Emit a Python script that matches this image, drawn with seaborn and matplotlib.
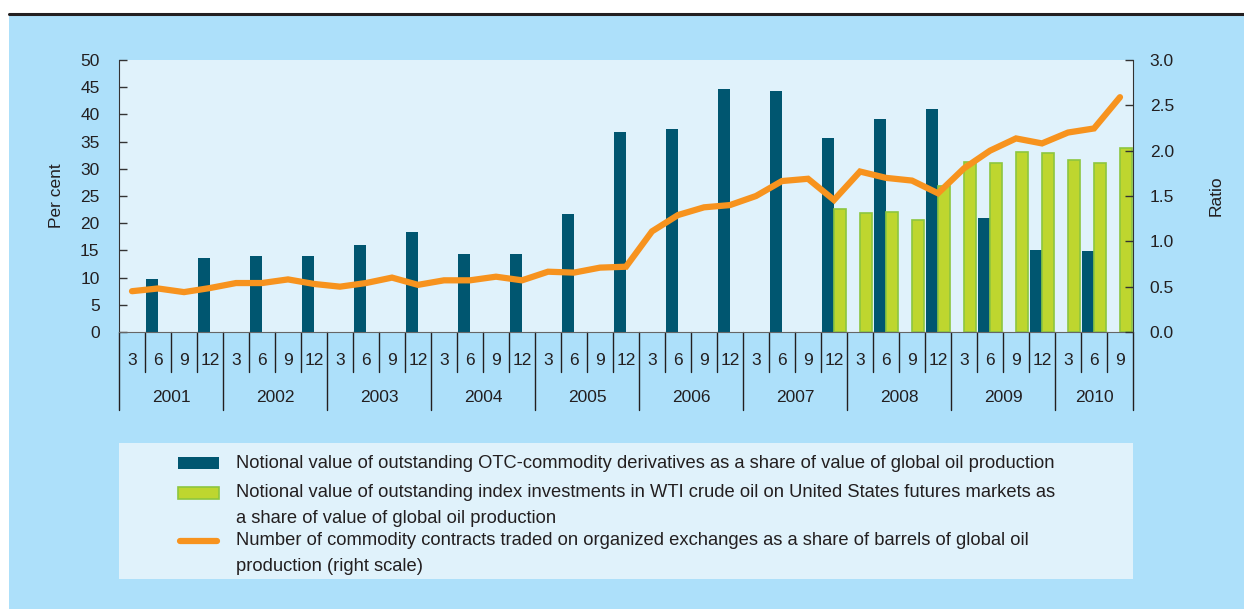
import numpy as np
import pandas as pd
import matplotlib.pyplot as plt
import matplotlib.transforms as mtransforms
from matplotlib.patches import Rectangle
from matplotlib.lines import Line2D
import seaborn as sns

sns.set_style("white")
plt.rcParams["font.family"] = ["Liberation Sans", "DejaVu Sans"]

# data: quarterly, 2001 Q1 .. 2010 Q3
years = [2001, 2002, 2003, 2004, 2005, 2006, 2007, 2008, 2009, 2010]
months = [3, 6, 9, 12]
quarter_ids = [f"{y}-{m}" for y in years for m in months][:39]
month_labels = [str(m) for y in years for m in months][:39]

nan = np.nan
otc_share = [nan, 9.7, nan, 13.6, nan, 14.0, nan, 14.0, nan, 16.0, nan, 18.4,
             nan, 14.3, nan, 14.3, nan, 21.6, nan, 36.7, nan, 37.3, nan, 44.6,
             nan, 44.3, nan, 35.7, nan, 39.2, nan, 41.0, nan, 21.0, nan, 15.0,
             nan, 14.9, nan]
index_share = [nan] * 27 + [22.7, 21.8, 22.1, 20.6, 26.8, 31.3, 31.1, 33.1,
                            32.9, 31.7, 31.0, 33.9]
contracts_ratio = [0.45, 0.48, 0.44, 0.485, 0.54, 0.54, 0.58, 0.53,
                   0.50, 0.54, 0.60, 0.52, 0.57, 0.57, 0.61, 0.57,
                   0.665, 0.655, 0.71, 0.72, 1.11, 1.29, 1.375, 1.40,
                   1.50, 1.665, 1.69, 1.456, 1.77, 1.70, 1.67, 1.53,
                   1.805, 2.00, 2.135, 2.08, 2.20, 2.245, 2.59]

otc_label = "Notional value of outstanding OTC-commodity derivatives as a share of value of global oil production"
index_label = ("Notional value of outstanding index investments in WTI crude oil on United States futures markets as\n"
               "a share of value of global oil production")
ratio_label = ("Number of commodity contracts traded on organized exchanges as a share of barrels of global oil\n"
               "production (right scale)")

DARK = "#005670"
GREEN = "#BED62F"
GREEN_EDGE = "#8DC63F"
ORANGE = "#F7931E"
OUTER = "#ADE0FA"
INNER = "#E0F2FB"
TXT = "#231F20"
FS = 12.5
LEG_FS = 13.2

bars_df = pd.DataFrame({
    "quarter": quarter_ids * 2,
    "series": ["otc"] * 39 + ["index"] * 39,
    "value": otc_share + index_share,
}).dropna()

W, H = 1244, 609
fig = plt.figure(figsize=(W / 100, H / 100), dpi=100, facecolor="white")
fig.add_artist(Rectangle((9 / W, 0), 1 - 9 / W, 1 - 14.5 / H, transform=fig.transFigure,
                         facecolor=OUTER, edgecolor="none", zorder=-10))
fig.add_artist(Line2D([9 / W, 1], [1 - 13.5 / H] * 2, transform=fig.transFigure,
                      color=TXT, lw=2.2))

ax = fig.add_axes([119 / W, 1 - 332 / H, 1014 / W, 272 / H])
ax.set_facecolor(INNER)

sns.barplot(data=bars_df, x="quarter", y="value", hue="series", order=quarter_ids,
            hue_order=["otc", "index"], palette=[DARK, GREEN], width=0.9,
            dodge=True, saturation=1, ax=ax, legend=False, linewidth=0)
for bar in ax.containers[1]:
    bar.set_edgecolor(GREEN_EDGE)
    bar.set_linewidth(1.2)

ax2 = ax.twinx()
sns.lineplot(x=quarter_ids, y=contracts_ratio, sort=False, color=ORANGE, lw=4.5,
             ax=ax2, solid_capstyle="round", solid_joinstyle="miter")

ax.set_xlim(-0.5, 38.5)
ax.set_ylim(0, 50)
ax.set_yticks(range(0, 51, 5))
ax2.set_ylim(0, 3)
ax2.set_yticks(np.arange(0, 3.01, 0.5))
ax2.set_yticklabels([f"{v:.1f}" for v in np.arange(0, 3.01, 0.5)])

ax.set_xticks([])
ax.set_xlabel("")
ax.set_ylabel("Per cent", fontsize=FS, color=TXT)
ax.yaxis.set_label_coords(-0.054, 0.5)
ax2.set_ylabel("Ratio", fontsize=FS, color=TXT, rotation=90)
ax2.yaxis.set_label_coords(1.075, 0.5)

for a in (ax, ax2):
    for s in a.spines.values():
        s.set_visible(False)
ax.spines["left"].set_visible(True)
ax.spines["left"].set_color("#333333")
ax.spines["bottom"].set_visible(True)
ax.spines["bottom"].set_color("#666666")
ax2.spines["right"].set_visible(True)
ax2.spines["right"].set_color("#333333")
ax.tick_params(axis="y", direction="in", length=6, width=1, color="#333333",
               labelsize=FS, labelcolor=TXT, pad=14)
ax2.tick_params(axis="y", direction="in", length=6, width=1, color="#333333",
                labelsize=FS, labelcolor=TXT, pad=12)
ax2.tick_params(axis="x", bottom=False, labelbottom=False)

# table-like category axis
trans = mtransforms.blended_transform_factory(ax.transData, ax.transAxes)
for k in range(40):
    x = k - 0.5
    long_div = (k % 4 == 0) or k == 39
    y_end = -0.287 if long_div else -0.147
    ax.plot([x, x], [0, y_end], transform=trans, color=TXT, lw=1, clip_on=False)
for i, lab in enumerate(month_labels):
    ax.text(i, -0.103, lab, transform=trans, ha="center", va="center",
            fontsize=FS, color=TXT)
for j, y in enumerate(years):
    n = min(4, 39 - 4 * j)
    ax.text(4 * j + (n - 1) / 2, -0.239, str(y), transform=trans, ha="center",
            va="center", fontsize=FS, color=TXT)

# legend panel
fig.add_artist(Rectangle((119 / W, 1 - 579 / H), 1014 / W, 136 / H,
                         transform=fig.transFigure, facecolor=INNER, edgecolor="none"))
fig.add_artist(Rectangle((178 / W, 1 - 469 / H), 41 / W, 12 / H, transform=fig.transFigure,
                         facecolor=DARK, edgecolor="none"))
fig.add_artist(Rectangle((178 / W, 1 - 498.5 / H), 41 / W, 12 / H, transform=fig.transFigure,
                         facecolor=GREEN, edgecolor=GREEN_EDGE, lw=1.2))
fig.add_artist(Line2D([180 / W, 217 / W], [1 - 540.5 / H] * 2, transform=fig.transFigure,
                      color=ORANGE, lw=4.5, solid_capstyle="round"))
fig.text(236 / W, 1 - 464 / H, otc_label, ha="left", va="center", fontsize=LEG_FS, color=TXT)
for ycen, txt in [(492.5, index_label), (540.5, ratio_label)]:
    fig.text(236 / W, 1 - (ycen - 8.5) / H, txt, ha="left", va="top", fontsize=LEG_FS,
             color=TXT, linespacing=1.68)

fig.savefig("out.png", dpi=100, facecolor="white")
